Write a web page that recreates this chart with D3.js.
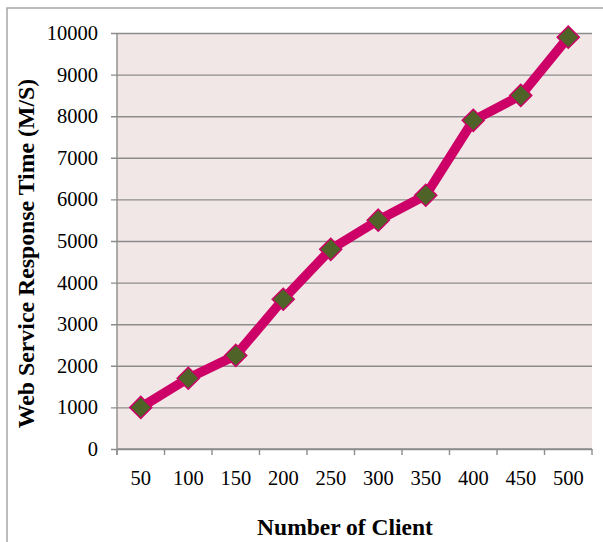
<!DOCTYPE html>
<html>
<head>
<meta charset="utf-8">
<script src="https://cdn.jsdelivr.net/npm/d3@7"></script>
<style>
  html, body { margin: 0; padding: 0; background: #ffffff; }
  svg { display: block; }
</style>
</head>
<body>
<div id="chart"></div>
<script>
// Web service response time by number of clients
const clients = ["50", "100", "150", "200", "250", "300", "350", "400", "450", "500"];
const responseTime = [1000, 1700, 2250, 3600, 4800, 5500, 6100, 7900, 8500, 9900];
const yTicks = [0, 1000, 2000, 3000, 4000, 5000, 6000, 7000, 8000, 9000, 10000];

const W = 603, H = 542;
const plot = { left: 117, right: 592, top: 33, bottom: 449 };
const FONT = "'Liberation Serif', 'Times New Roman', serif";

const svg = d3.select("#chart").append("svg")
  .attr("width", W).attr("height", H);

// outer chart frame
svg.append("rect")
  .attr("x", 7).attr("y", 8)
  .attr("width", W + 10).attr("height", H + 10)
  .attr("fill", "#ffffff")
  .attr("stroke", "#a6a6a6").attr("stroke-width", 1.5);

const x = d3.scaleBand().domain(clients)
  .range([plot.left, plot.right]).padding(0);
const y = d3.scaleLinear().domain([0, 10000])
  .range([plot.bottom, plot.top]);

// plot area background
svg.append("rect")
  .attr("x", plot.left).attr("y", plot.top)
  .attr("width", plot.right - plot.left)
  .attr("height", plot.bottom - plot.top)
  .attr("fill", "#f2e7e7");

// y axis with gridlines extending from the tick marks
const yAxis = svg.append("g")
  .attr("transform", `translate(${plot.left},0)`)
  .call(d3.axisLeft(y).tickValues(yTicks)
    .tickSizeInner(-(plot.right - plot.left))
    .tickSizeOuter(0)
    .tickPadding(19)
    .tickFormat(d3.format("d")));
yAxis.select(".domain").remove();
yAxis.selectAll(".tick line")
  .attr("x1", -6)
  .attr("stroke", "#8c8c8c").attr("stroke-width", 1.4);
yAxis.selectAll(".tick text")
  .attr("font-family", FONT).attr("font-size", 20.5)
  .attr("fill", "#000000");

// vertical axis line
svg.append("line")
  .attr("x1", plot.left).attr("x2", plot.left)
  .attr("y1", plot.top).attr("y2", plot.bottom + 6)
  .attr("stroke", "#8c8c8c").attr("stroke-width", 1.4);

// x axis: ticks at category boundaries, labels at band centres
const xAxis = svg.append("g")
  .attr("transform", `translate(0,${plot.bottom})`);
xAxis.append("line")
  .attr("x1", plot.left).attr("x2", plot.right)
  .attr("stroke", "#8c8c8c").attr("stroke-width", 1.4);
const boundaries = clients.map(c => x(c)).concat([x(clients[clients.length - 1]) + x.bandwidth()]);
xAxis.selectAll("line.tk").data(boundaries).join("line")
  .attr("class", "tk")
  .attr("x1", d => d).attr("x2", d => d)
  .attr("y1", 0).attr("y2", 6)
  .attr("stroke", "#8c8c8c").attr("stroke-width", 1.4);
xAxis.selectAll("text").data(clients).join("text")
  .attr("x", d => x(d) + x.bandwidth() / 2)
  .attr("y", 36)
  .attr("text-anchor", "middle")
  .attr("font-family", FONT).attr("font-size", 20.5)
  .attr("fill", "#000000")
  .text(d => d);

// data line
const pts = clients.map((c, i) => ({ c, v: responseTime[i] }));
const line = d3.line()
  .x(d => x(d.c) + x.bandwidth() / 2)
  .y(d => y(d.v));
svg.append("path")
  .datum(pts)
  .attr("d", line)
  .attr("fill", "none")
  .attr("stroke", "#cc0066")
  .attr("stroke-width", 9.5)
  .attr("stroke-linejoin", "round");

// diamond markers
const diamond = d3.symbol().type(d3.symbolDiamond2).size(310);
svg.selectAll("path.mk").data(pts).join("path")
  .attr("class", "mk")
  .attr("d", diamond)
  .attr("transform", d => `translate(${x(d.c) + x.bandwidth() / 2},${y(d.v)})`)
  .attr("fill", "#4f6228")
  .attr("stroke", "#cc0066")
  .attr("stroke-width", 1.5);

// axis titles
svg.append("text")
  .attr("transform", `translate(34,${(77 + 430) / 2}) rotate(-90)`)
  .attr("text-anchor", "middle")
  .attr("font-family", FONT).attr("font-size", 23.8).attr("font-weight", "bold")
  .attr("fill", "#000000")
  .text("Web Service Response Time (M/S)");

svg.append("text")
  .attr("x", 345).attr("y", 535)
  .attr("text-anchor", "middle")
  .attr("font-family", FONT).attr("font-size", 23.5).attr("font-weight", "bold")
  .attr("fill", "#000000")
  .text("Number of Client");
</script>
</body>
</html>
